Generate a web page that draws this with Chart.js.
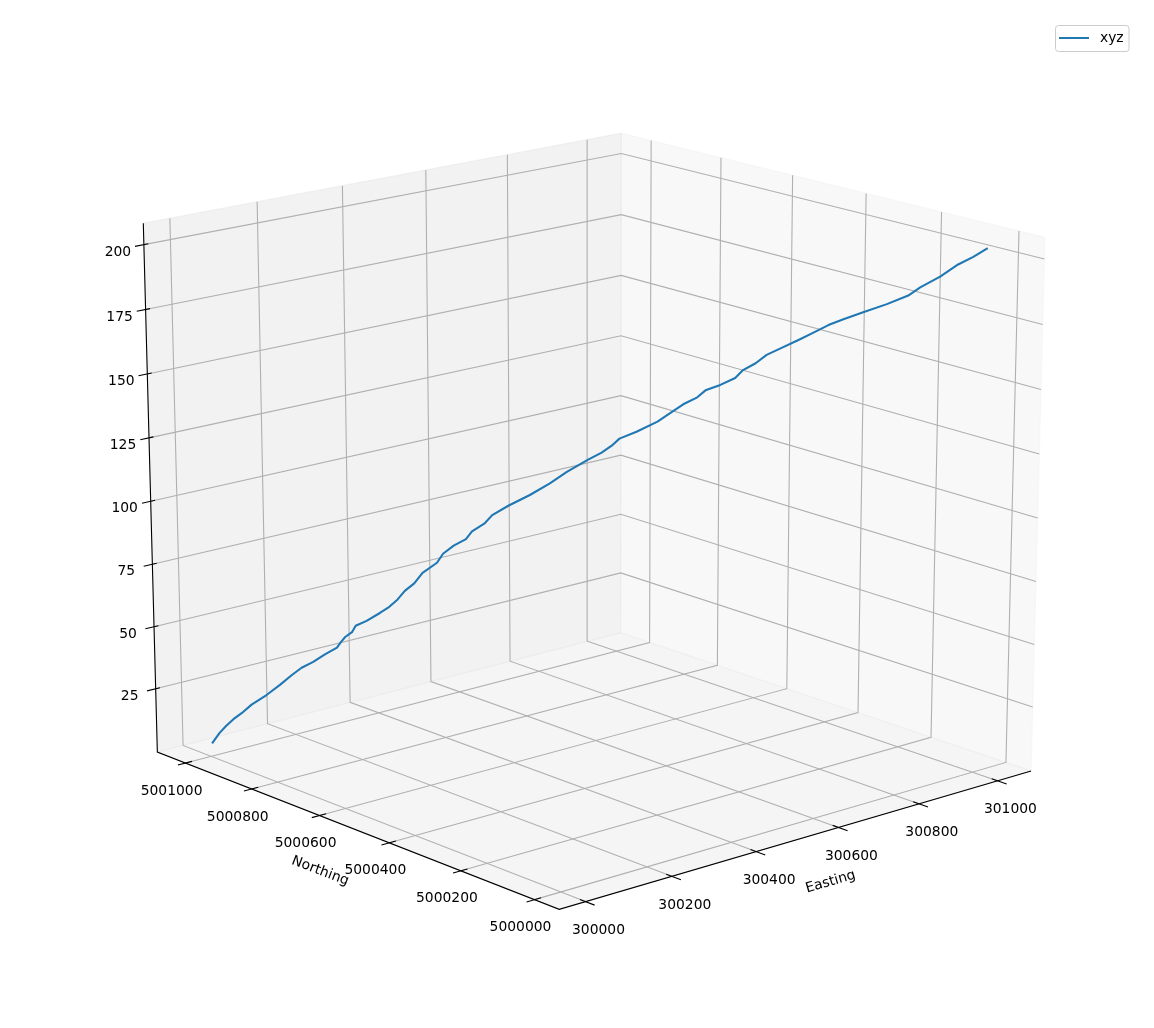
<!DOCTYPE html>
<html><head><meta charset="utf-8">
<script src="https://cdn.jsdelivr.net/npm/chart.js@4"></script>
<style>html,body{margin:0;padding:0;background:#fff}canvas{display:block}</style>
</head><body><canvas id="c" width="1154" height="1028"></canvas>
<script>
const easting=[300013,300023,300032,300042,300053,300066,300086,300104,300120,300133,300148,300164,300180,300185,300191,300200,300205,300219,300237,300249,300260,300270,300282,300293,300312,300320,300334,300350,300358,300374,300384,300405,300433,300459,300481,300508,300526,300539,300549,300571,300598,300618,300631,300649,300659,300678,300697,300707,300723,300737,300754,300779,300796,300815,300834,300859,300889,300916,300931,300956,300978,300997,301015];
const northing=[5001014,5001004,5000995,5000985,5000974,5000960,5000940,5000922,5000906,5000893,5000877,5000862,5000846,5000841,5000835,5000826,5000821,5000806,5000789,5000776,5000765,5000756,5000743,5000732,5000713,5000705,5000691,5000675,5000667,5000651,5000640,5000619,5000591,5000565,5000543,5000516,5000498,5000485,5000475,5000453,5000426,5000405,5000393,5000375,5000364,5000345,5000326,5000316,5000300,5000286,5000269,5000243,5000226,5000207,5000188,5000163,5000133,5000106,5000091,5000066,5000043,5000024,5000006];
const elevation=[3.3,7.5,10.5,13.3,15.8,19.4,23.4,27.6,31.7,34.7,37.2,40.3,43.1,45.2,47.4,49.4,52,54.1,57.3,59.9,62.9,66.3,69.4,73.7,77.8,81.4,84.7,87.4,90.5,93.6,97.1,100.9,105.3,110,114.6,119.5,122.4,125.2,128,130.8,134.9,139.2,141.8,144.6,147.4,149.6,152.4,155.5,158.2,161.5,164,167.8,170.4,173.4,175.7,178.5,181.8,185.2,188.4,192.6,197.4,200.4,203.8];
const eastingTicks=[300000,300200,300400,300600,300800,301000];
const northingTicks=[5000000,5000200,5000400,5000600,5000800,5001000];
const elevationTicks=[25,50,75,100,125,150,175,200];
const eastingLimits=[299940,301087];
const northingLimits=[4999934,5001087];
const elevationLimits=[-0.7,208.2];
// view calibration of the 3D box: pane corners as (u,v,w) -> screen
const calib=[[0,0,0,559.3,909.3],[1,0,0,1031,771],[0,1,0,157.3,752],[1,1,0,620.7,632.7],[1,0,1,1045,237.3],[0,1,1,143.3,223.3],[1,1,1,621.3,133.3]];
function solve(A,b){const n=A.length;const M=A.map((r,i)=>[...r,b[i]]);for(let i=0;i<n;i++){let p=i;for(let k=i+1;k<n;k++)if(Math.abs(M[k][i])>Math.abs(M[p][i]))p=k;[M[i],M[p]]=[M[p],M[i]];for(let k=0;k<n;k++){if(k===i)continue;const f=M[k][i]/M[i][i];for(let j=i;j<=n;j++)M[k][j]-=f*M[i][j];}}return M.map((r,i)=>r[n]/r[i]);}
const rows=[],rhs=[];
calib.forEach(([u,v,w,X,Y])=>{X/=1000;Y/=1000;rows.push([u,v,w,1,0,0,0,0,-X*u,-X*v,-X*w]);rhs.push(X);rows.push([0,0,0,0,u,v,w,1,-Y*u,-Y*v,-Y*w]);rhs.push(Y);});
const AtA=Array.from({length:11},(_,i)=>Array.from({length:11},(_,j)=>rows.reduce((s,r)=>s+r[i]*r[j],0)));
const Atb=Array.from({length:11},(_,i)=>rows.reduce((s,r,k)=>s+r[i]*rhs[k],0));
const h=solve(AtA,Atb);
function uvw(u,v,w){const d=h[8]*u+h[9]*v+h[10]*w+1;return {x:1000*(h[0]*u+h[1]*v+h[2]*w+h[3])/d,y:1000*(h[4]*u+h[5]*v+h[6]*w+h[7])/d};}
const U=e=>(e-eastingLimits[0])/(eastingLimits[1]-eastingLimits[0]);
const V=n=>(n-northingLimits[0])/(northingLimits[1]-northingLimits[0]);
const W=z=>(z-elevationLimits[0])/(elevationLimits[1]-elevationLimits[0]);
const P=(e,n,z)=>uvw(U(e),V(n),W(z));
const [E0,E1]=eastingLimits,[N0,N1]=northingLimits,[Z0,Z1]=elevationLimits;
const ds=[];
function add(pts,opt){ds.push(Object.assign({data:pts,showLine:true,pointRadius:0,borderWidth:1.1,borderColor:'#b0b0b0',tension:0,order:2},opt));}
add(easting.map((e,i)=>P(e,northing[i],elevation[i])),{label:'xyz',borderColor:'#1f77b4',backgroundColor:'#1f77b4',borderWidth:2.08,borderJoinStyle:'round',order:0});
function pane(c,col){add([...c,c[0]].map(p=>P(...p)),{fill:'shape',backgroundColor:col,borderColor:col,order:3});}
pane([[E0,N0,Z0],[E1,N0,Z0],[E1,N1,Z0],[E0,N1,Z0]],'rgba(236,236,236,.5)');
pane([[E0,N1,Z0],[E1,N1,Z0],[E1,N1,Z1],[E0,N1,Z1]],'rgba(229,229,229,.5)');
pane([[E1,N0,Z0],[E1,N1,Z0],[E1,N1,Z1],[E1,N0,Z1]],'rgba(242,242,242,.5)');
eastingTicks.forEach(e=>{add([[e,N0,Z0],[e,N1,Z0],[e,N1,Z1]].map(p=>P(...p)));
 add([[e,N0-24,Z0],[e,N0+15,Z0]].map(p=>P(...p)),{borderColor:'#000',order:1});});
northingTicks.forEach(n=>{add([[E0,n,Z0],[E1,n,Z0],[E1,n,Z1]].map(p=>P(...p)));
 add([[E0-18,n,Z0],[E0+15,n,Z0]].map(p=>P(...p)),{borderColor:'#000',order:1});});
elevationTicks.forEach(z=>{add([[E0,N1,z],[E1,N1,z],[E1,N0,z]].map(p=>P(...p)));
 add([[E0-20,N1,z],[E0+10,N1,z]].map(p=>P(...p)),{borderColor:'#000',order:1});});
add([[E1,N0,Z0],[E0,N0,Z0],[E0,N1,Z0],[E0,N1,Z1]].map(p=>P(...p)),{borderColor:'#000',order:1});
const FONT='13.89px "DejaVu Sans"';
const textPlugin={id:'axisText',afterDatasetsDraw(chart){const c=chart.ctx;c.save();c.font=FONT;c.fillStyle='#000';c.textAlign='center';c.textBaseline='middle';
 const sx=chart.scales.x,sy=chart.scales.y;
 const at=(p,dx,dy)=>[sx.getPixelForValue(p.x)+dx,sy.getPixelForValue(p.y)+dy];
 eastingTicks.forEach(e=>{const [x,y]=at(P(e,N0,Z0),13,29);c.fillText(String(e),x,y);});
 northingTicks.forEach(n=>{const [x,y]=at(P(E0,n,Z0),-14,28);c.fillText(String(n),x,y);});
 elevationTicks.forEach(z=>{const [x,y]=at(P(E0,N1,z),-26,7.5);c.fillText(String(z),x,y);});
 const t=(s,p,a,dx,dy)=>{const [x,y]=at(p,dx,dy);c.save();c.translate(x,y);c.rotate(a*Math.PI/180);c.fillText(s,0,0);c.restore();};
 t('Easting',P(300630,N0,Z0),-16,-20,58);
 t('Northing',P(E0,5000500,Z0),21,-34,42);
 c.strokeStyle='#ccc';c.lineWidth=1;c.beginPath();c.roundRect(1055.5,25.5,73.5,26,3);c.stroke();
 c.restore();}};
const legendPlugin={id:'legendPlace',afterLayout(chart){const l=chart.legend;l.left=1059;l.top=31;}};
const swatch=document.createElement('canvas');swatch.width=34;swatch.height=4;{const s=swatch.getContext('2d');s.fillStyle='#1f77b4';s.fillRect(0,1,30,2);}
Chart.defaults.color='#000';
new Chart(document.getElementById('c'),{type:'scatter',data:{datasets:ds},plugins:[textPlugin,legendPlugin],options:{responsive:false,animation:false,layout:{padding:0},
 scales:{x:{display:false,type:'linear',min:0,max:1154},y:{display:false,type:'linear',min:0,max:1028,reverse:true}},
 plugins:{tooltip:{enabled:false},legend:{position:'chartArea',align:'start',labels:{usePointStyle:true,pointStyle:swatch,pointStyleWidth:34,padding:0,font:{family:'DejaVu Sans',size:13.89},color:'#000',filter:i=>i.text==='xyz'}}}}});
</script></body></html>
